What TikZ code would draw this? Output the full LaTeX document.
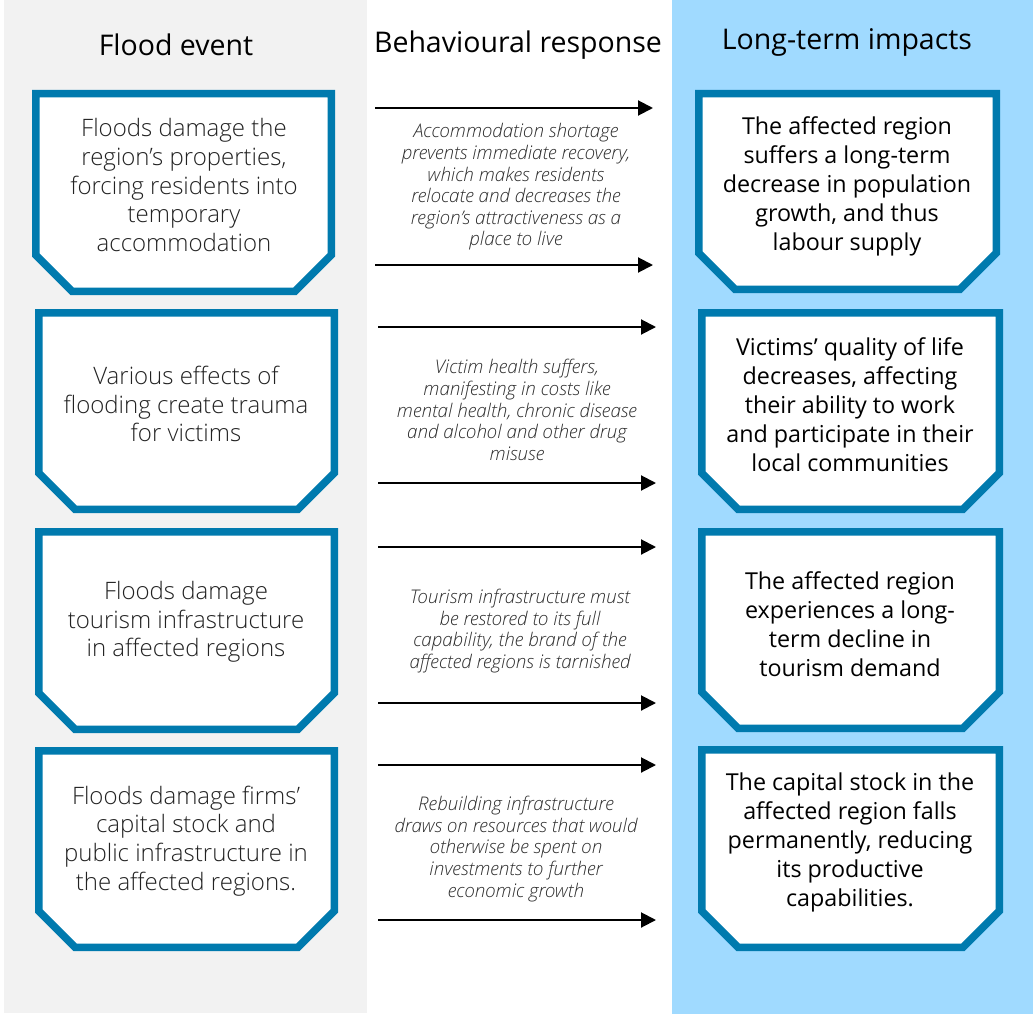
\documentclass[tikz,border=0pt]{standalone}
\usepackage{fontspec}
\setmainfont{Open Sans}
\newfontfamily\oslight{Open Sans}[UprightFont={* Light},ItalicFont={* Light Italic}]
\definecolor{boxblue}{RGB}{0,122,174}
\definecolor{panelblue}{RGB}{160,218,255}
\definecolor{panelgray}{RGB}{242,242,242}
\definecolor{lefttext}{RGB}{34,34,34}
\definecolor{midtext}{RGB}{45,45,45}
\tikzset{
  boxline/.style={draw=boxblue,fill=white,line width=7.5pt,line join=miter},
  header/.style={font=\fontsize{28.5}{32}\selectfont,text=black,inner sep=0pt},
  eventtext/.style={font=\oslight\fontsize{24}{28.7}\selectfont,text=lefttext,align=center,inner sep=0pt},
  impacttext/.style={font=\fontsize{23.3}{29}\selectfont,text=black,align=center,inner sep=0pt},
  resptext/.style={font=\oslight\itshape\fontsize{18.8}{21.6}\selectfont,text=midtext,align=center,inner sep=0pt},
  flowarrow/.style={draw=black,line width=2pt,-{Triangle[length=15pt,width=15pt]}},
}
\usetikzlibrary{arrows.meta}
% #1 x1, #2 y1, #3 x2, #4 y2 (outer edges)
\newcommand\chbox[4]{%
  \draw[boxline] (#1+3.75,#2+3.75) -- (#3-3.75,#2+3.75) -- (#3-3.75,#4-40) -- (#3-40,#4-3.75)
    -- (#1+40,#4-3.75) -- (#1+3.75,#4-40) -- cycle;}
\begin{document}
\begin{tikzpicture}[x=1pt,y=-1pt]
\useasboundingbox (0,0) rectangle (1033,1014);
\fill[white] (0,0) rectangle (1033,1014);
\fill[panelgray] (4,0) rectangle (367,1013);
\fill[panelblue] (672,0) rectangle (1033,1014);

\node[header] (h1) at (176,45) {Flood event};
\node[header] (h2) at (518,45) {Behavioural response};
\node[header] (h3) at (847,42) {Long-term impacts};

% left boxes
\chbox{32}{90}{335}{295}
\chbox{35}{309}{338}{513}
\chbox{35}{528}{338}{733}
\chbox{35}{747}{338}{951}
% right boxes
\chbox{695}{90}{1000}{293}
\chbox{698}{309}{1003}{513}
\chbox{698}{528}{1003}{732}
\chbox{698}{746}{1003}{951}

\node[eventtext] (e1) at (184,185) {Floods damage the\\region’s properties,\\forcing residents into\\temporary\\accommodation};
\node[eventtext] (e2) at (186,404) {Various effects of\\flooding create trauma\\for victims};
\node[eventtext] (e3) at (186,622) {Floods damage\\tourism infrastructure\\in affected regions};
\node[eventtext] (e4) at (186,841) {Floods damage firms’\\capital stock and\\public infrastructure in\\the affected regions.};

\node[impacttext] (i1) at (847,186) {The affected region\\suffers a long-term\\decrease in population\\growth, and thus\\labour supply};
\node[impacttext] (i2) at (850,405) {Victims’ quality of life\\decreases, affecting\\their ability to work\\and participate in their\\local communities};
\node[impacttext] (i3) at (850,624) {The affected region\\experiences a long-\\term decline in\\tourism demand};
\node[impacttext] (i4) at (850,842) {The capital stock in the\\affected region falls\\permanently, reducing\\its productive\\capabilities.};

\node[resptext] (r1) at (516,187) {Accommodation shortage\\prevents immediate recovery,\\which makes residents\\relocate and decreases the\\region’s attractiveness as a\\place to live};
\node[resptext] (r2) at (517,410) {Victim health suffers,\\manifesting in costs like\\mental health, chronic disease\\and alcohol and other drug\\misuse};
\node[resptext] (r3) at (520,631) {Tourism infrastructure must\\be restored to its full\\capability, the brand of the\\affected regions is tarnished};
\node[resptext] (r4) at (516,849) {Rebuilding infrastructure\\draws on resources that would\\otherwise be spent on\\investments to further\\economic growth};

% arrows
\coordinate (a1s) at (375,108); \coordinate (a1e) at (653,108);
\coordinate (b1s) at (375,265); \coordinate (b1e) at (653,265);
\coordinate (a2s) at (378,327); \coordinate (a2e) at (656,327);
\coordinate (b2s) at (378,483); \coordinate (b2e) at (656,483);
\coordinate (a3s) at (378,547); \coordinate (a3e) at (656,547);
\coordinate (b3s) at (378,703); \coordinate (b3e) at (656,703);
\coordinate (a4s) at (378,765); \coordinate (a4e) at (656,765);
\coordinate (b4s) at (378,920); \coordinate (b4e) at (656,920);
\foreach \r in {1,2,3,4}{
  \draw[flowarrow] (a\r s) -- (a\r e);
  \draw[flowarrow] (b\r s) -- (b\r e);
}
\end{tikzpicture}
\end{document}
